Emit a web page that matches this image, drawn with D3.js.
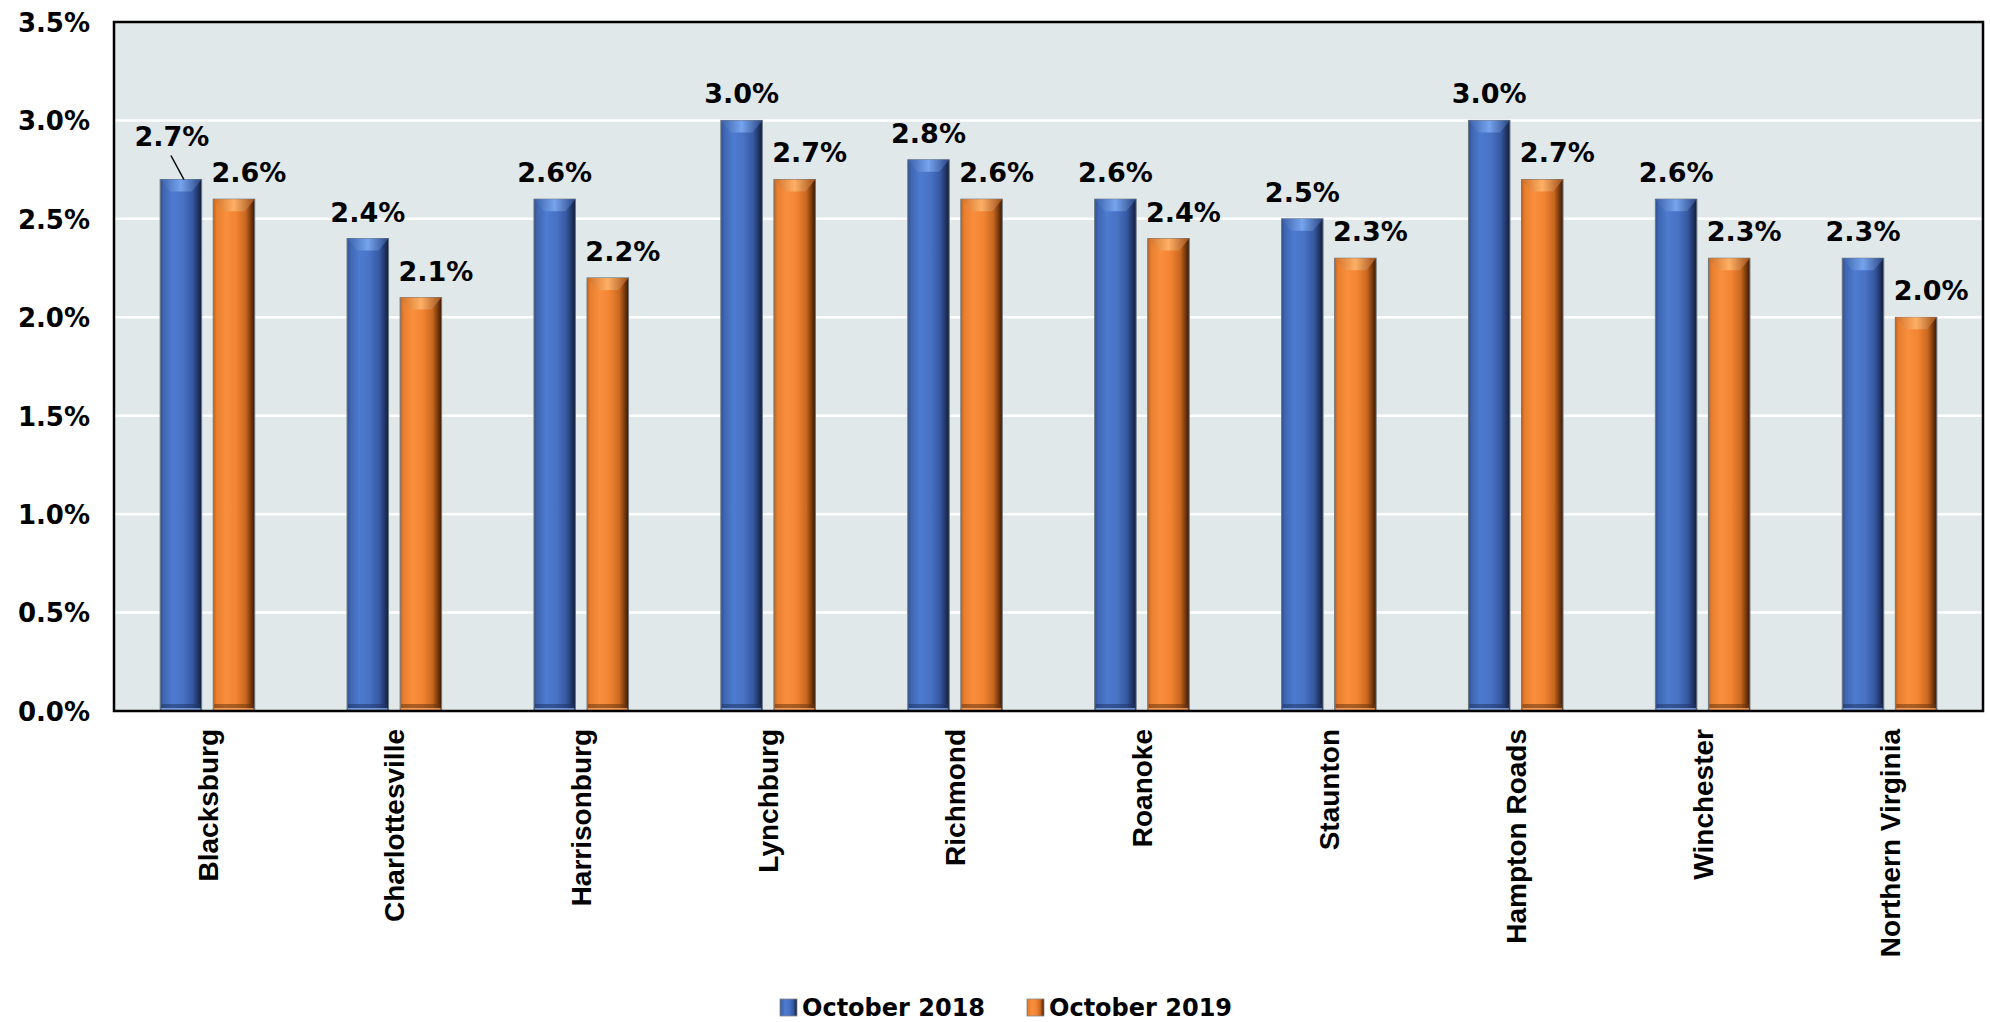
<!DOCTYPE html>
<html>
<head>
<meta charset="utf-8">
<script src="https://cdn.jsdelivr.net/npm/d3@7"></script>
<style>
  html, body { margin: 0; padding: 0; background: #fff; }
  svg { display: block; }
</style>
</head>
<body>
<svg id="chart" width="1990" height="1022"></svg>
<script>
const categories = ["Blacksburg", "Charlottesville", "Harrisonburg", "Lynchburg", "Richmond",
  "Roanoke", "Staunton", "Hampton Roads", "Winchester", "Northern Virginia"];
const seriesNames = ["October 2018", "October 2019"];
const oct2018 = [2.7, 2.4, 2.6, 3.0, 2.8, 2.6, 2.5, 3.0, 2.6, 2.3];
const oct2019 = [2.6, 2.1, 2.2, 2.7, 2.6, 2.4, 2.3, 2.7, 2.3, 2.0];
const yTicks = [0, 0.5, 1.0, 1.5, 2.0, 2.5, 3.0, 3.5];

const W = 1990, H = 1022;
const m = { left: 114, right: 1983, top: 22, bottom: 711 };
const svg = d3.select("#chart");
const defs = svg.append("defs");

function gradient(id, stops) {
  const g = defs.append("linearGradient").attr("id", id)
    .attr("x1", "0%").attr("x2", "100%").attr("y1", "0%").attr("y2", "0%");
  stops.forEach(s => g.append("stop").attr("offset", s[0]).attr("stop-color", s[1]));
}
gradient("gBlue", [["0%", "#2f4f8f"], ["8%", "#3f66b2"], ["30%", "#4d7bd0"], ["55%", "#4872c4"], ["78%", "#3658a0"], ["90%", "#22386a"], ["100%", "#121d38"]]);
gradient("gOrange", [["0%", "#c2601c"], ["8%", "#e87f2e"], ["30%", "#f98f3d"], ["55%", "#f28433"], ["78%", "#c9681f"], ["90%", "#7c3c0e"], ["100%", "#361705"]]);
gradient("gBlueTop", [["0%", "#3a5fa8"], ["50%", "#78a6f0"], ["100%", "#2a4684"]]);
gradient("gOrangeTop", [["0%", "#d06e25"], ["50%", "#ffb268"], ["100%", "#a0501a"]]);
const fills = ["url(#gBlue)", "url(#gOrange)"];
const topFills = ["url(#gBlueTop)", "url(#gOrangeTop)"];
const bottomCol = ["#1f3566", "#6a3410"];
const bottomLight = ["#7fa2e0", "#f0a060"];

const x0 = d3.scaleBand().domain(categories).range([m.left, m.right]).paddingInner(0).paddingOuter(0);
const bw = x0.bandwidth();
const barW = bw * 0.222;
const gap = bw * 0.062;
const y = d3.scaleLinear().domain([0, 3.5]).range([m.bottom, m.top]);

// plot background
svg.append("rect").attr("x", m.left).attr("y", m.top)
  .attr("width", m.right - m.left).attr("height", m.bottom - m.top)
  .attr("fill", "#e1e8ea");

// gridlines
svg.append("g").selectAll("line").data(yTicks.filter(t => t > 0 && t < 3.5)).join("line")
  .attr("x1", m.left).attr("x2", m.right)
  .attr("y1", d => y(d)).attr("y2", d => y(d))
  .attr("stroke", "#ffffff").attr("stroke-width", 2.5);

// y axis labels
const yAxis = d3.axisLeft(y).tickValues(yTicks).tickSize(0).tickPadding(24)
  .tickFormat(d => d3.format(".1f")(d) + "%");
const ya = svg.append("g").attr("transform", `translate(${m.left},0)`).call(yAxis);
ya.select(".domain").remove();
ya.selectAll("text").attr("font-family", "DejaVu Sans").attr("font-weight", "bold")
  .attr("font-size", 26).attr("fill", "#000").attr("dy", "0.36em");

// bars
const data = categories.map((c, i) => ({ cat: c, vals: [oct2018[i], oct2019[i]] }));
const barX = (cat, s) => {
  const c = x0(cat) + bw / 2;
  return s === 0 ? c - gap / 2 - barW : c + gap / 2;
};

const groups = svg.append("g").selectAll("g").data(data).join("g");
groups.each(function(d) {
  const g = d3.select(this);
  d.vals.forEach((v, s) => {
    const bx = barX(d.cat, s);
    const by = y(v);
    const bh = y(0) - by;
    g.append("rect").attr("x", bx).attr("y", by).attr("width", barW).attr("height", bh)
      .attr("fill", fills[s]).attr("stroke", "#6e7880").attr("stroke-width", 1);
    // top bevel
    const cap = 12, ins = 10;
    g.append("path")
      .attr("d", `M${bx},${by} L${bx + barW},${by} L${bx + barW - ins},${by + cap} L${bx + ins},${by + cap} Z`)
      .attr("fill", topFills[s]).attr("opacity", 0.95);
    // bottom bevel
    g.append("rect").attr("x", bx + 1).attr("y", y(0) - 7).attr("width", barW - 2).attr("height", 4)
      .attr("fill", bottomCol[s]).attr("opacity", 0.55);
    g.append("rect").attr("x", bx + 1).attr("y", y(0) - 3).attr("width", barW - 2).attr("height", 3)
      .attr("fill", bottomLight[s]).attr("opacity", 0.8);
  });
});

// value labels
const labelFmt = v => d3.format(".1f")(v) + "%";
const lbl = svg.append("g").attr("font-family", "DejaVu Sans").attr("font-weight", "bold")
  .attr("font-size", 27).attr("fill", "#000").attr("text-anchor", "middle");
data.forEach((d, i) => {
  d.vals.forEach((v, s) => {
    const cx = barX(d.cat, s) + barW / 2;
    let lx = s === 0 ? cx : cx + 15;
    let ly = y(v) - 17;
    if (s === 0 && i === 0) {
      // label lifted with leader line (overlaps neighbour otherwise)
      lx = cx - 9; ly = y(v) - 33;
      svg.append("line").attr("x1", cx - 10).attr("y1", ly + 9)
        .attr("x2", cx + 3).attr("y2", y(v)).attr("stroke", "#000").attr("stroke-width", 1.5);
    }
    lbl.append("text").attr("x", lx).attr("y", ly).text(labelFmt(v));
  });
});

// frame
svg.append("rect").attr("x", m.left).attr("y", m.top)
  .attr("width", m.right - m.left).attr("height", m.bottom - m.top)
  .attr("fill", "none").attr("stroke", "#000").attr("stroke-width", 2.5);

// x axis labels
const xAxis = d3.axisBottom(x0).tickSize(0).tickPadding(0);
const xa = svg.append("g").attr("transform", `translate(0,${m.bottom})`).call(xAxis);
xa.select(".domain").remove();
xa.selectAll("text")
  .attr("font-family", "Liberation Sans, Arial, sans-serif").attr("font-weight", "bold")
  .attr("font-size", 28).attr("fill", "#000")
  .attr("text-anchor", "end")
  .attr("transform", "rotate(-90)")
  .attr("x", -18).attr("y", 0).attr("dy", "0.36em");

// legend
const leg = svg.append("g");
const legItems = [{ name: seriesNames[0], x: 780 }, { name: seriesNames[1], x: 1027 }];
legItems.forEach((it, s) => {
  leg.append("rect").attr("x", it.x).attr("y", 999).attr("width", 17).attr("height", 17)
    .attr("fill", fills[s]).attr("stroke", "#888").attr("stroke-width", 0.8);
  leg.append("text").attr("x", it.x + 22).attr("y", 1016)
    .attr("font-family", "DejaVu Sans").attr("font-weight", "bold").attr("font-size", 24)
    .attr("fill", "#000").text(it.name);
});
</script>
</body>
</html>
